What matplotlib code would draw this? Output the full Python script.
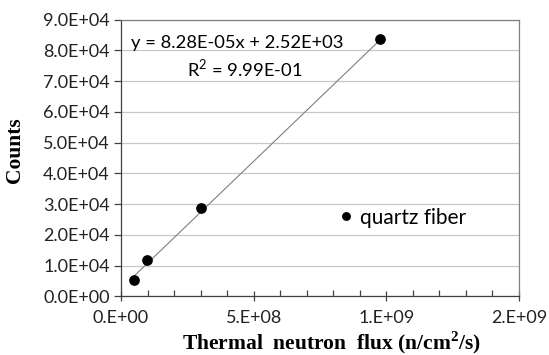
import numpy as np
import matplotlib.pyplot as plt
from matplotlib.ticker import MultipleLocator, FuncFormatter

# data
flux = [4.9e7, 9.8e7, 3.0e8, 9.77e8]      # n/cm2/s
counts = [5.3e3, 1.18e4, 2.86e4, 8.37e4]
slope = 8.28e-5
intercept = 2.52e3

tick_font = 'Lato'
lab_font = 'Liberation Serif'

plt.rcParams['mathtext.fontset'] = 'custom'
plt.rcParams['mathtext.rm'] = tick_font
plt.rcParams['mathtext.bf'] = lab_font + ':bold'

fig = plt.figure(figsize=(5.49, 3.55), dpi=100)
ax = fig.add_axes([0.2204, 0.165, 0.7250, 0.780])

# trend line over the data range
xs = np.array([min(flux), max(flux)])
ax.plot(xs, slope * xs + intercept, color='#808080', lw=0.8, zorder=2)
ax.plot(flux, counts, 'o', color='black', ms=6.7, label='quartz fiber', zorder=3)

ax.set_xlim(0, 1.5e9)
ax.set_ylim(0, 9e4)
ax.xaxis.set_major_locator(MultipleLocator(5e8))
ax.xaxis.set_minor_locator(MultipleLocator(1e8))
ax.yaxis.set_major_locator(MultipleLocator(1e4))
ax.xaxis.set_major_formatter(FuncFormatter(lambda v, p: '%#.0E' % v))
ax.yaxis.set_major_formatter(FuncFormatter(lambda v, p: '%.1E' % v))

ax.grid(axis='y', color='#c8c8c8', lw=0.9)
ax.set_axisbelow(True)
for s in ax.spines.values():
    s.set_color('#808080')
    s.set_linewidth(0.9)
ax.spines['left'].set_color('#404040')
ax.spines['bottom'].set_color('#404040')

ax.tick_params(axis='x', which='major', direction='inout', length=7, width=0.9,
               color='#404040', pad=6)
ax.tick_params(axis='x', which='minor', direction='in', length=4, width=0.9,
               color='#404040')
ax.tick_params(axis='y', which='major', direction='out', length=5, width=0.9,
               color='#404040', pad=3)
for lab in ax.get_xticklabels() + ax.get_yticklabels():
    lab.set_fontfamily(tick_font)
    lab.set_fontsize(13)
    lab.set_color('#222222')

ax.text(0.026, 0.915, 'y = 8.28E-05x + 2.52E+03', transform=ax.transAxes,
        fontsize=13.2, family=tick_font, va='center', ha='left')
ax.text(0.31, 0.825, 'R$^{\\mathrm{2}}$ = 9.99E-01', transform=ax.transAxes,
        fontsize=13.2, family=tick_font, va='center', ha='center')

leg = ax.legend(loc='center left', bbox_to_anchor=(0.487, 0.285), frameon=False,
                handletextpad=0.05, handlelength=1.2, markerscale=0.8,
                prop={'family': tick_font, 'size': 15})

ax.set_ylabel('Counts', family=lab_font, fontweight='bold', fontsize=15.5)
ax.yaxis.set_label_coords(-0.24, 0.527)
ax.set_xlabel('Thermal  neutron  flux (n/cm$^{\\mathbf{2}}$/s)', family=lab_font,
              fontweight='bold', fontsize=15.5)
ax.xaxis.set_label_coords(0.528, -0.118)

fig.savefig('out.png', dpi=100)
